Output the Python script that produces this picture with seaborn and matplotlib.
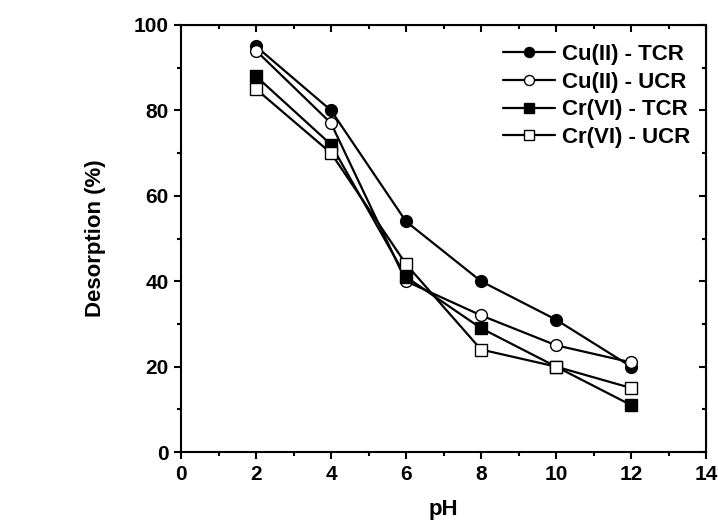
import matplotlib
matplotlib.use("Agg")
import matplotlib.pyplot as plt
import seaborn as sns
import pandas as pd
from matplotlib.ticker import MultipleLocator

ph = [2, 4, 6, 8, 10, 12]
cu_tcr = [95, 80, 54, 40, 31, 20]
cu_ucr = [94, 77, 40, 32, 25, 21]
cr_tcr = [88, 72, 41, 29, 20, 11]
cr_ucr = [85, 70, 44, 24, 20, 15]
labels = ["Cu(II) - TCR", "Cu(II) - UCR", "Cr(VI) - TCR", "Cr(VI) - UCR"]
series = [cu_tcr, cu_ucr, cr_tcr, cr_ucr]
markers = ["o", "o", "s", "s"]
fills = ["black", "white", "black", "white"]

rows = []
for lab, vals in zip(labels, series):
    for x, y in zip(ph, vals):
        rows.append({"pH": x, "Desorption": y, "Series": lab})
df = pd.DataFrame(rows)

sns.set_style("ticks")
plt.rcParams["font.family"] = ["Liberation Sans", "DejaVu Sans"]
plt.rcParams["font.weight"] = "bold"
for k in ["text.color", "axes.labelcolor", "xtick.color", "ytick.color", "axes.edgecolor"]:
    plt.rcParams[k] = "black"

fig = plt.figure(figsize=(7.18, 5.25), dpi=100)
ax = fig.add_axes([0.2521, 0.139, 0.7312, 0.8134])

for lab, mk, fc in zip(labels, markers, fills):
    sub = df[df["Series"] == lab]
    sns.lineplot(data=sub, x="pH", y="Desorption", ax=ax, color="black",
                 marker=mk, markersize=8.5, markerfacecolor=fc,
                 markeredgecolor="black", markeredgewidth=1.0,
                 linewidth=1.6, label=lab, sort=False)

ax.set_xlim(0, 14)
ax.set_ylim(0, 100)
ax.xaxis.set_major_locator(MultipleLocator(2))
ax.xaxis.set_minor_locator(MultipleLocator(1))
ax.yaxis.set_major_locator(MultipleLocator(20))
ax.yaxis.set_minor_locator(MultipleLocator(10))
ax.tick_params(which="major", direction="out", length=5, width=1.5, labelsize=15, pad=4)
ax.tick_params(which="minor", direction="out", length=3, width=1.5)
for lbl in ax.get_xticklabels() + ax.get_yticklabels():
    lbl.set_fontweight("bold")
for sp in ax.spines.values():
    sp.set_visible(True)
    sp.set_linewidth(1.5)
    sp.set_color("black")

top = ax.secondary_xaxis("top")
top.xaxis.set_major_locator(MultipleLocator(2))
top.xaxis.set_minor_locator(MultipleLocator(1))
top.tick_params(which="major", direction="in", length=5, width=1.5, labeltop=False)
top.tick_params(which="minor", direction="in", length=3, width=1.5)
right = ax.secondary_yaxis("right")
right.yaxis.set_major_locator(MultipleLocator(20))
right.yaxis.set_minor_locator(MultipleLocator(10))
right.tick_params(which="major", direction="in", length=5, width=1.5, labelright=False)
right.tick_params(which="minor", direction="in", length=3, width=1.5)

ax.set_xlabel("pH", fontsize=16, fontweight="bold", labelpad=11)
ax.set_ylabel("Desorption (%)", fontsize=16, fontweight="bold", labelpad=20)

leg = ax.legend(loc="upper right", bbox_to_anchor=(1.0, 0.993), frameon=False,
                fontsize=16, handlelength=2.35, handletextpad=0.3,
                labelspacing=0.3, borderaxespad=0.32, markerscale=0.85)
for t in leg.get_texts():
    t.set_fontweight("bold")

fig.savefig("out.png", dpi=100)
